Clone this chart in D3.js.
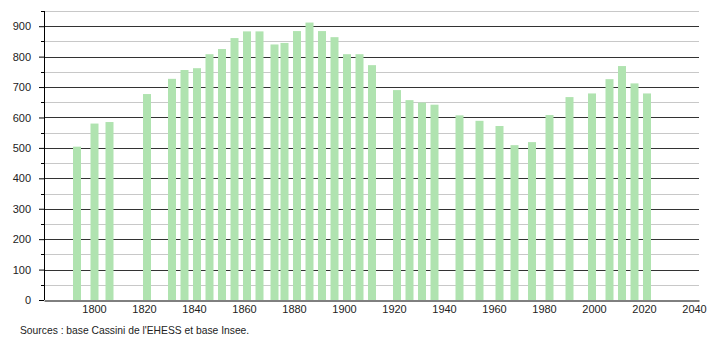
<!DOCTYPE html>
<html>
<head>
<meta charset="utf-8">
<script src="https://cdn.jsdelivr.net/npm/d3@7"></script>
<style>
  body { margin: 0; background: #fff; }
  text { font-family: "Liberation Sans", Arial, sans-serif; }
</style>
</head>
<body>
<div id="graph"></div>
<script>
"use strict";

let width = 710,
    height = 340;

// census years and population
const years = [1793, 1800, 1806, 1821, 1831, 1836, 1841, 1846, 1851, 1856,
               1861, 1866, 1872, 1876, 1881, 1886, 1891, 1896, 1901, 1906,
               1911, 1921, 1926, 1931, 1936, 1946, 1954, 1962, 1968, 1975,
               1982, 1990, 1999, 2006, 2011, 2016, 2021];
const population = [504, 580, 585, 677, 727, 756, 762, 808, 825, 861,
                    883, 883, 840, 845, 884, 912, 884, 864, 808, 808,
                    772, 690, 657, 649, 642, 607, 589, 572, 509, 519,
                    608, 667, 679, 726, 769, 712, 679];
const xTicks = [1800, 1820, 1840, 1860, 1880, 1900, 1920, 1940, 1960, 1980, 2000, 2020, 2040];
const yMajor = [0, 100, 200, 300, 400, 500, 600, 700, 800, 900];
const yMinor = [50, 150, 250, 350, 450, 550, 650, 750, 850, 950];

const margin = { left: 44, right: 10, top: 11, bottom: 40 };

let svg = d3.select("#graph")
    .append("svg")
    .attr("width", width)
    .attr("height", height);

let x = d3.scaleLinear()
    .domain([1780, 2042])
    .range([margin.left, 699]);

let y = d3.scaleLinear()
    .domain([0, 950])
    .range([300, margin.top]);

// light grid every 50
svg.append("g")
    .selectAll("line")
    .data(yMinor)
    .enter()
    .append("line")
    .attr("x1", margin.left)
    .attr("x2", 699)
    .attr("y1", d => Math.round(y(d)) + 0.5)
    .attr("y2", d => Math.round(y(d)) + 0.5)
    .attr("stroke", "#c8c8c8")
    .attr("stroke-width", 1);

// dark grid every 100
svg.append("g")
    .selectAll("line")
    .data(yMajor.filter(d => d > 0))
    .enter()
    .append("line")
    .attr("x1", margin.left)
    .attr("x2", 699)
    .attr("y1", d => Math.round(y(d)) + 0.5)
    .attr("y2", d => Math.round(y(d)) + 0.5)
    .attr("stroke", "#333")
    .attr("stroke-width", 1);

// bars
svg.append("g")
    .selectAll("rect")
    .data(years)
    .enter()
    .append("rect")
    .attr("x", d => x(d) - 3.5)
    .attr("y", (d, i) => y(population[i]))
    .attr("width", 8)
    .attr("height", (d, i) => y(0) - y(population[i]))
    .attr("fill", "#b0e3b0");

// y axis
let yAxis = svg.append("g")
    .attr("transform", "translate(" + margin.left + ",0)")
    .call(d3.axisLeft(y).tickValues(yMajor).tickSize(5).tickPadding(8).tickFormat(d3.format("d")));
yAxis.select(".domain").attr("stroke", "#000").attr("d", "M0.5," + y(950) + "V" + y(0));
yAxis.selectAll("text").attr("font-size", "11px").attr("fill", "#222")
    .attr("font-family", "Liberation Sans, Arial, sans-serif");

svg.append("g")
    .selectAll("line")
    .data(yMinor)
    .enter()
    .append("line")
    .attr("x1", margin.left - 3)
    .attr("x2", margin.left)
    .attr("y1", d => Math.round(y(d)) + 0.5)
    .attr("y2", d => Math.round(y(d)) + 0.5)
    .attr("stroke", "#000");

// x axis
let xAxis = svg.append("g")
    .attr("transform", "translate(0," + (y(0) + 0.5) + ")")
    .call(d3.axisBottom(x).tickValues(xTicks).tickSize(0).tickPadding(5).tickFormat(d3.format("d")));
xAxis.select(".domain").attr("stroke", "#000");
xAxis.selectAll("text").attr("font-size", "11px").attr("fill", "#222")
    .attr("font-family", "Liberation Sans, Arial, sans-serif");

svg.append("text")
    .attr("x", 20)
    .attr("y", 334)
    .attr("font-size", "10.3px")
    .attr("fill", "#222")
    .text("Sources : base Cassini de l'EHESS et base Insee.");
</script>
</body>
</html>
